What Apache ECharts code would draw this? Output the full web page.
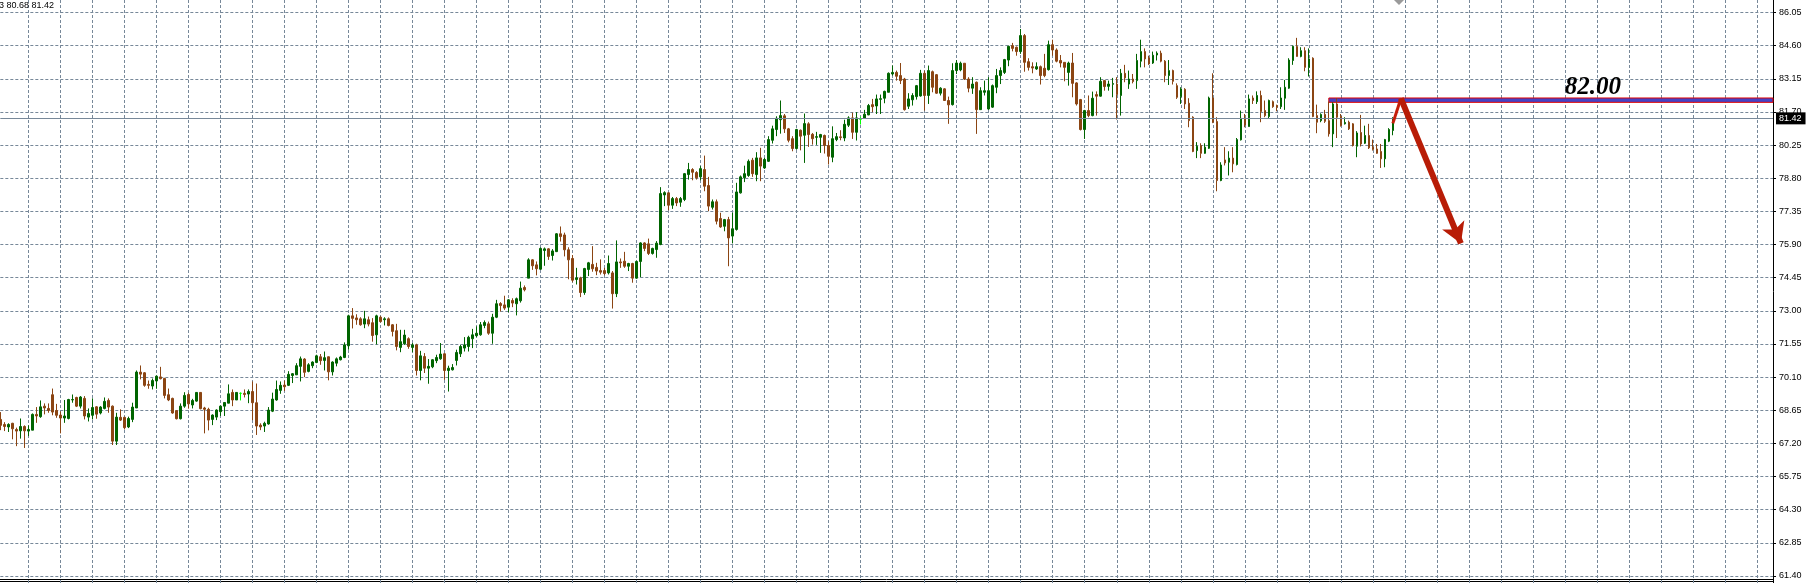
<!DOCTYPE html>
<html><head><meta charset="utf-8">
<script src="https://cdn.jsdelivr.net/npm/echarts@6/dist/echarts.min.js"></script>
<style>html,body{margin:0;padding:0;background:#fff;overflow:hidden}#c{width:1810px;height:583px}</style>
</head><body><div id="c"></div>
<script>
// ---- price data (one value per bar) ----
const opens = [
68.25,68.03,67.92,68.08,67.81,67.75,67.94,67.74,67.78,68.47,68.37,68.83,68.73,69.33,68.64,68.44,68.31,68.29,69.10,69.21,
68.83,69.17,68.35,68.43,68.80,68.53,68.73,69.08,68.83,67.30,68.34,68.34,67.92,68.25,68.75,70.32,70.29,69.78,69.71,69.93,
70.11,70.04,69.33,69.17,68.63,68.28,68.83,69.34,68.88,69.05,69.43,68.75,68.69,68.25,68.35,68.59,68.83,68.96,69.43,69.10,
69.39,69.39,69.36,69.47,68.98,68.00,67.96,68.05,68.61,69.10,69.52,69.75,69.74,70.17,70.20,70.57,70.89,70.35,70.60,70.74,
70.99,70.83,70.99,70.33,70.71,70.86,70.96,71.47,72.78,72.69,72.65,72.42,72.61,72.48,71.95,72.72,72.61,72.65,72.39,72.13,
71.40,71.56,71.78,71.40,71.51,70.39,71.00,70.49,70.55,70.82,70.90,71.12,70.39,70.42,70.83,71.12,71.37,71.44,71.78,71.91,
71.95,72.36,72.43,72.02,72.72,73.32,73.26,73.16,73.45,73.31,73.44,74.02,74.43,75.23,75.01,74.82,75.64,75.71,75.42,75.59,
76.37,76.32,75.67,75.29,74.37,74.44,73.80,74.81,75.03,74.90,74.76,74.76,74.66,74.66,73.75,75.14,75.17,74.95,75.07,74.43,
75.16,75.97,75.93,75.51,75.68,75.90,78.07,78.16,77.62,77.91,77.75,77.87,78.96,79.18,79.05,78.86,79.18,78.48,77.53,77.77,
77.04,76.70,76.99,76.27,76.56,78.16,78.82,78.92,79.59,78.96,79.69,79.25,79.54,80.46,80.93,81.36,81.53,80.96,80.53,80.10,
80.90,80.68,81.18,80.72,80.59,80.59,80.67,80.23,79.72,80.49,80.61,80.56,81.12,81.44,80.81,81.38,81.42,81.57,82.02,81.96,
82.25,82.30,82.56,83.36,83.43,83.29,83.14,81.95,82.23,82.37,82.40,83.39,82.42,83.46,83.33,82.52,82.71,82.20,82.02,83.51,
83.54,83.83,83.14,82.74,83.00,81.80,82.56,81.83,81.91,82.78,83.29,83.43,83.97,84.60,84.53,84.34,85.04,83.90,83.68,83.58,
83.68,83.61,83.55,84.64,84.41,83.95,83.87,83.43,83.84,82.97,82.24,80.93,81.76,81.54,82.46,82.39,83.07,82.82,82.91,82.92,
82.42,83.39,82.92,83.14,83.07,83.92,84.34,84.06,83.84,84.19,84.27,83.92,83.29,83.51,82.85,82.37,82.69,82.08,81.47,80.01,
80.23,79.89,80.11,82.31,81.28,78.70,79.60,79.50,79.68,79.40,80.48,81.42,81.06,82.31,82.15,82.42,81.76,81.50,82.15,81.98,
81.93,82.30,82.74,83.95,84.56,84.13,84.38,83.65,84.05,81.54,81.32,81.59,81.32,80.74,82.05,81.50,81.18,81.25,81.18,80.20,
80.80,80.33,80.67,80.16,80.08,79.97,79.65,80.42,80.89
];
const closes = [
67.99,67.94,68.03,67.84,67.74,67.94,67.75,67.81,68.47,68.40,68.80,68.75,68.64,68.57,68.43,68.31,68.40,69.12,69.12,68.83,
69.23,68.40,68.51,68.77,68.48,68.79,69.04,68.79,67.30,68.35,68.22,67.89,68.29,68.79,70.32,70.23,69.74,69.74,69.95,70.14,
70.03,69.30,69.10,68.53,68.28,68.83,69.30,68.93,69.08,69.43,68.72,68.69,68.22,68.44,68.66,68.83,68.99,69.37,69.10,69.43,
69.39,69.34,69.47,68.98,67.96,67.92,68.08,68.66,69.14,69.56,69.74,69.68,70.22,70.25,70.60,70.90,70.31,70.64,70.76,71.03,
70.82,70.95,70.33,70.76,70.90,70.98,71.51,72.78,72.67,72.61,72.39,72.65,72.42,71.92,72.78,72.53,72.65,72.36,72.10,71.44,
71.65,71.94,71.44,71.51,70.39,71.03,70.49,70.57,70.86,70.96,71.11,70.39,70.49,70.52,71.18,71.44,71.51,71.84,71.95,72.02,
72.39,72.49,72.02,72.72,73.31,73.23,73.12,73.48,73.34,73.53,73.99,73.92,75.23,74.97,74.84,75.73,75.71,75.38,75.62,76.37,
76.25,75.67,75.23,74.34,74.44,73.80,74.85,75.10,74.84,74.74,74.69,74.63,75.07,73.75,75.14,75.10,74.95,75.07,74.43,75.16,
75.97,75.73,75.51,75.73,75.96,78.13,78.17,77.62,77.91,77.72,77.91,79.00,79.18,79.06,78.82,79.22,78.45,77.58,77.77,76.92,
76.67,76.99,76.19,76.59,78.20,78.86,79.00,79.54,79.00,79.69,79.33,79.62,80.49,80.96,81.42,81.54,80.96,80.46,80.10,80.93,
80.64,81.19,80.71,80.53,80.62,80.71,80.23,79.76,80.53,80.62,80.58,81.16,81.44,80.81,81.44,81.38,81.60,81.98,81.93,82.27,
82.28,82.60,83.39,83.43,83.26,83.07,81.80,82.27,82.42,82.85,83.39,82.42,83.51,82.78,82.52,82.74,82.20,82.01,83.51,83.84,
83.83,83.14,82.74,82.92,81.80,82.63,82.63,82.63,82.85,83.29,83.51,83.99,84.57,84.48,84.34,85.04,83.87,83.65,83.62,83.68,
83.29,83.29,84.64,84.41,83.92,83.84,83.65,83.84,82.95,82.05,80.93,81.76,81.54,82.30,82.39,83.04,82.81,82.92,82.94,82.46,
83.39,83.19,83.14,83.03,83.95,84.34,84.02,83.80,84.18,84.27,83.92,83.29,83.51,83.04,82.34,82.71,82.05,81.32,79.97,80.20,
79.89,80.16,82.31,81.25,78.70,79.38,79.47,79.68,79.43,80.49,81.42,81.13,82.27,82.20,82.42,81.72,81.54,82.20,81.93,81.91,
82.31,82.78,83.97,84.57,84.13,84.38,83.65,84.02,81.50,81.25,81.59,81.29,80.74,82.05,81.47,81.10,81.24,80.96,80.23,80.78,
80.30,80.67,80.13,80.06,79.89,79.65,80.49,80.93,81.42
];
const lows = [
67.78,67.74,67.70,67.38,67.08,67.41,67.00,67.52,67.78,68.10,68.32,68.47,68.54,68.43,68.32,67.64,68.10,68.25,68.98,68.79,
68.73,68.25,68.16,68.25,68.28,68.47,68.69,68.54,67.13,67.13,68.18,67.81,67.87,68.13,68.75,70.00,69.68,69.59,69.56,69.59,
70.00,69.17,69.05,68.50,68.25,68.25,68.76,68.72,68.73,69.02,68.69,67.64,67.77,68.00,68.22,68.40,68.40,68.96,68.83,69.10,
69.08,69.21,68.96,68.22,67.57,67.78,67.70,68.02,68.57,69.07,69.37,69.49,69.71,69.84,70.19,69.91,70.10,70.31,70.49,70.71,
70.64,70.39,69.96,70.17,70.57,70.83,70.93,71.30,72.23,72.39,72.35,72.24,72.32,71.65,71.53,72.49,72.36,72.32,71.88,71.27,
71.19,71.51,71.34,71.19,70.17,69.96,70.28,69.81,70.49,70.71,70.86,69.98,69.47,70.39,70.61,70.98,71.22,71.22,71.37,71.85,
71.91,72.24,71.95,71.56,72.68,72.97,73.04,72.94,73.16,72.80,73.36,73.85,74.43,74.79,74.55,74.79,74.97,75.23,75.20,75.57,
76.03,75.38,74.38,74.25,74.15,73.60,73.70,74.52,74.71,74.56,74.59,74.55,74.59,73.10,73.60,74.88,74.88,74.74,74.23,74.40,
74.47,75.61,75.44,75.46,75.32,75.87,77.58,77.40,77.46,77.58,77.55,77.80,78.74,78.71,78.74,78.71,78.23,77.36,77.43,76.78,
76.63,76.48,74.95,75.95,76.51,78.13,78.63,78.86,78.86,78.67,78.67,79.21,79.51,80.32,80.64,80.75,80.78,80.37,79.98,80.05,
80.02,79.47,80.17,80.27,80.26,79.91,79.88,79.40,79.50,80.42,80.46,80.42,81.04,80.52,80.45,81.15,81.40,81.56,81.69,81.61,
81.61,82.08,82.56,83.29,83.07,82.92,81.76,81.83,81.98,82.24,82.37,81.76,82.05,82.56,82.49,82.42,82.20,81.18,81.98,83.36,
83.48,83.10,82.56,82.49,80.74,81.79,82.42,81.79,81.88,82.52,82.92,83.36,83.70,84.35,84.16,84.24,83.46,83.51,83.39,83.54,
82.90,83.22,83.51,84.16,83.87,83.65,83.04,82.85,82.34,81.98,80.89,80.52,81.47,81.51,81.54,82.37,82.63,82.63,82.34,81.37,
81.54,83.00,82.71,82.95,82.71,83.65,83.65,83.76,83.80,83.95,83.87,83.00,82.88,82.90,82.27,82.05,81.83,81.03,79.94,79.68,
79.68,79.87,80.08,81.21,78.23,78.67,79.36,78.92,79.06,79.36,80.45,81.03,81.06,82.05,82.05,81.25,81.47,81.40,81.88,81.73,
81.83,81.79,82.71,83.76,84.12,84.09,83.48,83.25,81.47,80.77,81.25,81.22,80.62,80.16,80.56,81.06,81.15,80.91,80.19,79.72,
80.19,80.30,80.08,80.01,79.87,79.25,79.28,80.38,80.68
];
const highs = [
68.57,68.13,68.08,68.10,67.89,68.29,67.99,67.99,68.51,68.79,69.08,68.95,68.95,69.60,68.93,68.60,69.10,69.15,69.34,69.24,
69.27,69.27,68.73,69.17,68.83,68.83,69.21,69.17,68.86,68.54,68.69,68.37,68.37,68.98,70.39,70.61,70.32,69.95,70.04,70.17,
70.55,70.07,69.60,69.20,68.66,68.95,69.44,69.42,69.15,69.44,69.44,68.80,68.76,68.47,68.69,68.86,69.01,69.78,69.56,69.44,
69.43,69.56,69.56,69.91,69.82,68.08,68.15,68.79,69.42,69.95,69.91,69.95,70.36,70.28,70.71,71.00,70.93,70.71,70.79,71.08,
71.11,71.22,71.00,70.79,70.96,71.03,71.62,72.83,73.12,72.85,72.72,73.00,72.75,72.68,72.83,72.78,72.72,72.71,72.42,72.43,
72.17,72.17,71.84,71.59,71.56,71.25,71.15,70.89,70.89,71.08,71.59,71.15,70.60,70.67,71.30,71.51,71.85,71.91,72.21,72.32,
72.51,72.58,72.53,72.87,73.48,73.38,73.66,73.51,73.55,73.58,74.28,74.11,75.30,75.26,75.16,75.77,75.77,75.74,75.70,76.40,
76.69,76.42,75.78,75.44,74.88,74.49,74.88,75.14,75.83,75.10,75.25,74.88,75.42,74.74,76.08,75.29,75.58,75.10,75.10,75.19,
76.00,76.00,76.16,75.76,76.05,78.41,78.23,78.19,77.98,77.98,77.98,79.03,79.47,79.24,79.11,79.33,79.79,78.86,77.87,77.87,
77.29,77.02,77.11,77.29,78.60,78.92,79.35,79.62,79.69,79.94,80.13,79.69,80.64,81.10,81.51,82.20,81.61,81.00,80.64,80.96,
80.93,81.63,81.25,80.78,80.83,80.74,80.71,80.42,81.07,80.78,80.90,81.36,81.51,81.67,81.69,81.50,81.79,82.05,82.27,82.46,
82.46,82.63,83.43,83.73,83.51,83.84,83.19,82.52,82.52,82.88,83.54,83.51,83.73,83.51,83.36,82.78,82.74,82.37,83.83,83.97,
83.90,83.84,83.22,83.22,83.03,82.78,83.07,83.22,82.90,83.58,83.65,84.02,84.60,84.72,84.56,85.33,85.11,84.05,83.87,83.87,
83.73,84.24,84.82,84.86,84.48,84.19,83.87,83.90,84.28,83.00,82.27,81.79,82.42,82.59,82.60,83.22,83.10,83.07,83.19,83.22,
83.58,83.76,83.51,83.36,84.24,84.86,84.48,84.16,84.34,84.35,84.38,83.97,83.97,83.55,82.95,82.78,82.74,82.30,81.51,80.38,
80.33,80.33,82.37,83.39,81.47,79.50,80.16,79.98,80.16,80.56,81.76,81.61,82.46,82.42,82.60,82.63,82.20,82.24,82.20,82.02,
82.78,83.10,84.05,84.60,84.94,84.53,84.53,84.48,84.09,82.02,81.64,81.79,82.15,82.12,82.31,81.61,81.47,81.32,81.21,80.86,
81.57,81.10,81.18,80.49,80.30,80.30,80.52,80.99,81.47
];

// ---- axis / annotation constants ----
const yTickMin = 61.40;
const yTickMax = 86.05;
const yTickStep = 1.45;
const totalSlots = 444;               // bar slots including empty future space
const headerText = '3 80.68 81.42';
const levelText = '82.00';
const levelBand = [82.12, 82.31];     // drawn resistance bar (value range)
const levelStartBar = 332;
const levelTextAt = [398, 82.77];
const arrowUp = [[348, 81.20], [350, 82.29]];
const arrowDown = [[350, 82.29], [365, 75.95]];

const slots = Array.from({length: totalSlots}, (_, i) => String(i));
const lastClose = closes[closes.length - 1];

const BULL = '#006400', BEAR = '#8B4513', DOJI = '#00FF00', GRID = '#778899';

const candleData = opens.map((o, i) => {
  const v = [o, closes[i], lows[i], highs[i]];
  if (o === closes[i]) {
    return {value: v, itemStyle: {color: DOJI, color0: DOJI, borderColor: DOJI, borderColor0: DOJI}};
  }
  return v;
});

const chart = echarts.init(document.getElementById('c'), null, {renderer: 'canvas'});
chart.setOption({
  animation: false,
  backgroundColor: '#ffffff',
  title: {
    text: headerText, left: -1, top: 1, padding: 0,
    textStyle: {fontFamily: 'Liberation Sans', fontSize: 9, fontWeight: 'normal', color: '#000'}
  },
  grid: [
    {left: 0.33, right: 37, top: 0, bottom: 0},
    {left: 0.33, right: 37, top: 12.5, bottom: 7}
  ],
  xAxis: [
    {
      gridIndex: 0, type: 'category', data: slots, boundaryGap: false,
      axisLine: {show: false}, axisTick: {show: false}, axisLabel: {show: false},
      splitLine: {
        show: true,
        interval: (i) => i >= 7 && (i - 7) % 8 === 0,
        lineStyle: {color: GRID, width: 1, type: [3, 2]}
      }
    },
    {gridIndex: 1, type: 'category', data: slots, boundaryGap: false, show: false}
  ],
  yAxis: [
    {
      gridIndex: 0, type: 'value', position: 'right', min: 0, max: 1,
      axisLine: {show: true, onZero: false, lineStyle: {color: '#000', width: 1}},
      axisTick: {show: false}, axisLabel: {show: false}, splitLine: {show: false}
    },
    {
      gridIndex: 1, type: 'value', position: 'right',
      min: yTickMin, max: yTickMax, interval: yTickStep,
      axisLine: {show: false},
      axisTick: {show: true, length: 3, lineStyle: {color: '#000'}},
      axisLabel: {
        show: true, margin: 6, color: '#000', fontFamily: 'Liberation Sans', fontSize: 9,
        formatter: (v) => v.toFixed(2)
      },
      splitLine: {show: true, lineStyle: {color: GRID, width: 1, type: [3, 2]}}
    }
  ],
  graphic: [
    {type: 'line', silent: true, shape: {x1: 0, y1: 579.5, x2: 1773, y2: 579.5}, style: {stroke: '#000', lineWidth: 1}},
    {type: 'line', silent: true, shape: {x1: 0, y1: 581.5, x2: 1773, y2: 581.5}, style: {stroke: '#000', lineWidth: 1}},
    {type: 'polygon', silent: true, shape: {points: [[1394, 0], [1404, 0], [1399, 5]]}, style: {fill: '#9A9A9A'}}
  ],
  series: [{
    type: 'candlestick',
    xAxisIndex: 1, yAxisIndex: 1,
    data: candleData,
    barWidth: 2,
    itemStyle: {color: BULL, color0: BEAR, borderColor: BULL, borderColor0: BEAR, borderWidth: 1},
    emphasis: {disabled: true},
    markArea: {
      silent: true,
      itemStyle: {color: '#4343C6', opacity: 1, borderColor: '#E00000', borderWidth: 1},
      data: [[{coord: [levelStartBar, levelBand[1]]}, {coord: [totalSlots - 1, levelBand[0]]}]]
    },
    markLine: {
      silent: true, animation: false,
      symbol: ['none', 'none'],
      label: {show: false},
      data: [
        {
          yAxis: lastClose,
          lineStyle: {color: GRID, type: 'solid', width: 1},
          label: {
            show: true, position: 'end', distance: 3, formatter: lastClose.toFixed(2),
            backgroundColor: '#000', color: '#fff', fontFamily: 'Liberation Sans', fontSize: 9,
            padding: [2, 4, 1, 3]
          }
        },
        [
          {coord: arrowUp[0], symbol: 'none', lineStyle: {color: '#C41E0A', width: 3, type: 'solid'}},
          {coord: arrowUp[1], symbol: 'none'}
        ],
        [
          {coord: arrowDown[0], symbol: 'none', lineStyle: {color: '#B81C06', width: 6, type: 'solid'}},
          {coord: arrowDown[1], symbol: 'arrow', symbolSize: [18, 20]}
        ]
      ]
    },
    markPoint: {
      silent: true, animation: false,
      data: [{
        coord: levelTextAt, symbol: 'circle', symbolSize: 1,
        itemStyle: {color: 'rgba(0,0,0,0)'},
        label: {
          show: true, position: 'inside', formatter: levelText,
          fontFamily: 'Liberation Serif', fontStyle: 'italic', fontWeight: 'bold',
          fontSize: 25, color: '#000'
        }
      }]
    }
  }]
});
</script>
</body></html>
